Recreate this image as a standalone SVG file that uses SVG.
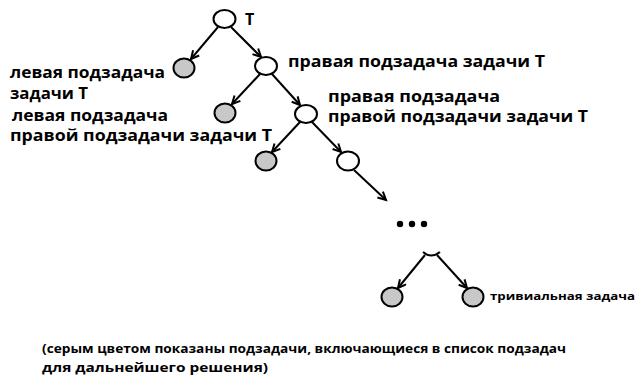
<svg xmlns="http://www.w3.org/2000/svg" width="637" height="378" viewBox="0 0 637 378">
  <style>
    .node { stroke: #000; stroke-width: 2; }
    .open { fill: #fff; }
    .grey { fill: #c8c8c8; }
    .edge { stroke: #000; stroke-width: 2; fill: none; marker-end: url(#arrow); }
    .lbl { font-family: "Open Sans", "Liberation Sans", sans-serif; font-weight: bold; fill: #000; }
    .big { font-size: 16px; }
    .small { font-size: 11px; }
    .note { font-size: 13px; }
  </style>
  <defs>
    <marker id="arrow" markerUnits="userSpaceOnUse" markerWidth="12" markerHeight="12" refX="9" refY="5" orient="auto">
      <path d="M1,1 L9,5 L1,9" fill="none" stroke="#000" stroke-width="2"/>
    </marker>
  </defs>

  <rect width="637" height="378" fill="#fff"/>

  <!-- connectors -->
  <g id="edges">
    <line class="edge" x1="218" y1="27" x2="191" y2="59"/>
    <line class="edge" x1="231" y1="27" x2="261" y2="57"/>
    <line class="edge" x1="260" y1="74" x2="232" y2="104"/>
    <line class="edge" x1="272" y1="74" x2="300" y2="105"/>
    <line class="edge" x1="300" y1="122" x2="272" y2="152"/>
    <line class="edge" x1="312" y1="122" x2="341" y2="152"/>
    <line class="edge" x1="354" y1="170" x2="386" y2="200"/>
    <line class="edge" x1="425" y1="255" x2="398" y2="288"/>
    <line class="edge" x1="437" y1="255" x2="467" y2="288"/>
  </g>

  <!-- root task T -->
  <g id="n-root">
    <ellipse class="node open" cx="224.5" cy="19" rx="11" ry="9"/>
    <text class="lbl big" x="245" y="25">T</text>
  </g>

  <!-- left subtask of T -->
  <g id="n-left">
    <ellipse class="node grey" cx="184" cy="68" rx="10.5" ry="9.5"/>
    <text class="lbl big" x="10" y="78" textLength="155" lengthAdjust="spacingAndGlyphs">левая подзадача</text>
    <text class="lbl big" x="10" y="99" textLength="78" lengthAdjust="spacingAndGlyphs">задачи T</text>
  </g>

  <!-- right subtask of T -->
  <g id="n-right">
    <ellipse class="node open" cx="266" cy="66" rx="11" ry="9"/>
    <text class="lbl big" x="288" y="67" textLength="257" lengthAdjust="spacingAndGlyphs">правая подзадача задачи T</text>
  </g>

  <!-- left subtask of the right subtask -->
  <g id="n-right-left">
    <ellipse class="node grey" cx="225" cy="113" rx="10.5" ry="9.5"/>
    <text class="lbl big" x="12" y="121" textLength="156" lengthAdjust="spacingAndGlyphs">левая подзадача</text>
    <text class="lbl big" x="10" y="141" textLength="262" lengthAdjust="spacingAndGlyphs">правой подзадачи задачи T</text>
  </g>

  <!-- right subtask of the right subtask -->
  <g id="n-right-right">
    <ellipse class="node open" cx="306" cy="114" rx="11" ry="9"/>
    <text class="lbl big" x="328" y="102" textLength="172" lengthAdjust="spacingAndGlyphs">правая подзадача</text>
    <text class="lbl big" x="328" y="122" textLength="260" lengthAdjust="spacingAndGlyphs">правой подзадачи задачи T</text>
  </g>

  <!-- third level -->
  <g id="n-l3-left">
    <ellipse class="node grey" cx="266" cy="161" rx="10.5" ry="9.5"/>
  </g>
  <g id="n-l3-right">
    <ellipse class="node open" cx="348" cy="161" rx="11" ry="9.5"/>
  </g>

  <!-- ellipsis -->
  <g id="n-dots" fill="#000">
    <circle cx="400" cy="224" r="3.2"/>
    <circle cx="412" cy="224" r="3.2"/>
    <circle cx="424" cy="224" r="3.2"/>
  </g>

  <!-- partially visible last expanded node -->
  <g id="n-last">
    <path class="node" fill="none" d="M423,252 Q431,259 440,252"/>
  </g>

  <!-- trivial leaves -->
  <g id="n-leaf-left">
    <ellipse class="node grey" cx="392" cy="297" rx="10.5" ry="9.5"/>
  </g>
  <g id="n-leaf-right">
    <ellipse class="node grey" cx="473" cy="297" rx="10.5" ry="9.5"/>
    <text class="lbl small" x="490" y="300" textLength="145" lengthAdjust="spacingAndGlyphs">тривиальная задача</text>
  </g>

  <!-- legend note -->
  <g id="note">
    <text class="lbl note" x="42" y="353" textLength="524" lengthAdjust="spacingAndGlyphs">(серым цветом показаны подзадачи, включающиеся в список подзадач</text>
    <text class="lbl note" x="42" y="372" textLength="226" lengthAdjust="spacingAndGlyphs">для дальнейшего решения)</text>
  </g>
</svg>
